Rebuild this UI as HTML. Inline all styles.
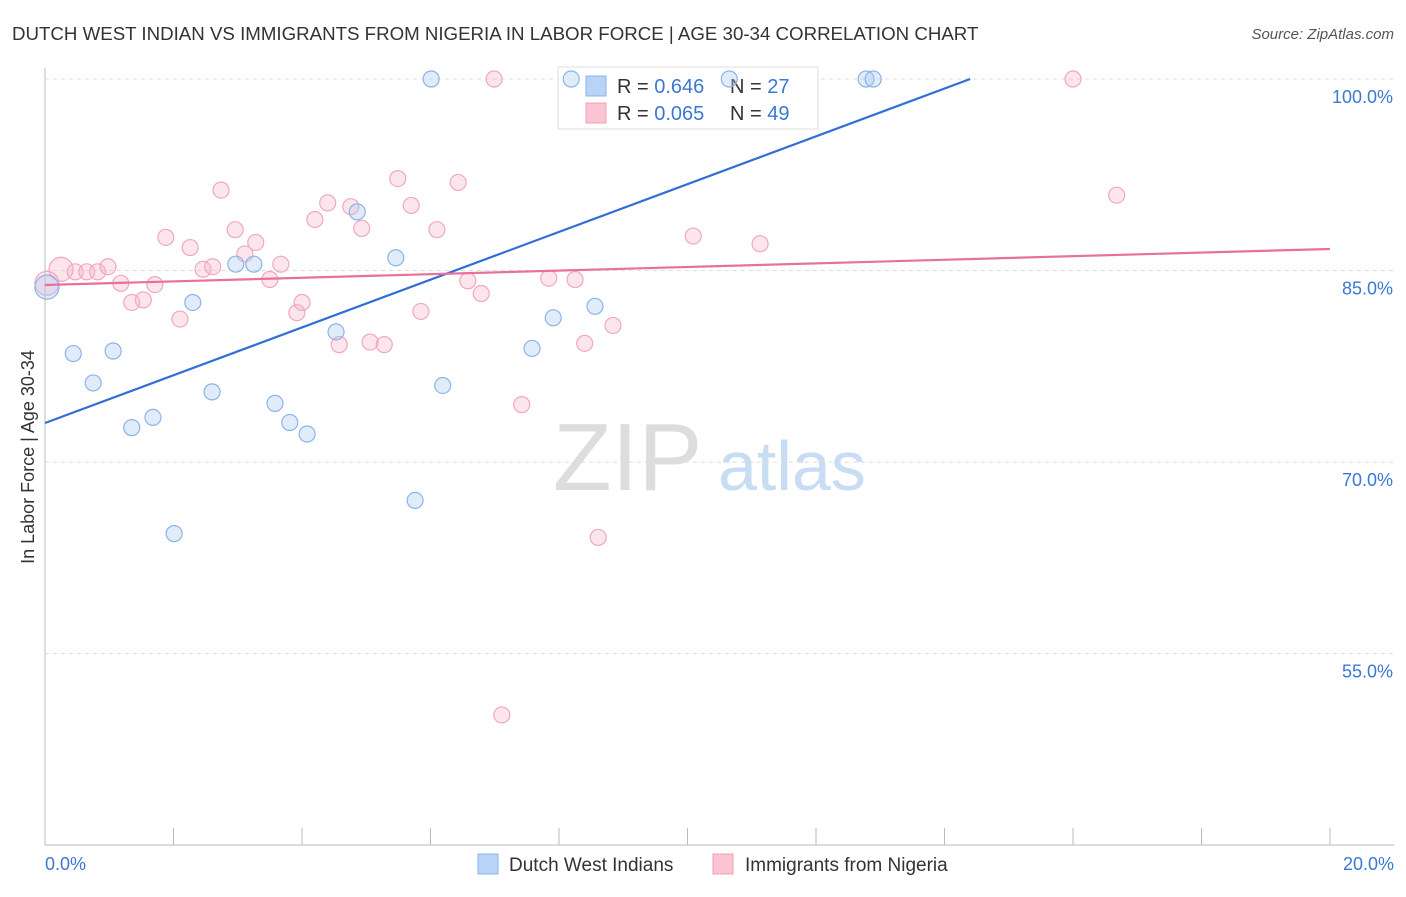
<!DOCTYPE html>
<html><head><meta charset="utf-8"><style>
body{margin:0;background:#fff;font-family:"Liberation Sans",sans-serif}
svg text{font-family:"Liberation Sans",sans-serif}
</style></head><body>
<svg id="c" width="1406" height="892">
<text x="12" y="40" font-size="18.7" fill="#333">DUTCH WEST INDIAN VS IMMIGRANTS FROM NIGERIA IN LABOR FORCE | AGE 30-34 CORRELATION CHART</text>
<text x="1394" y="39" font-size="15" fill="#555" font-style="italic" text-anchor="end">Source: ZipAtlas.com</text>
<g>
<text x="553" y="490" font-size="96" fill="#ddd" font-family="Liberation Serif">ZIP</text>
<text x="718" y="490" font-size="70" fill="#c8dcf3">atlas</text>
</g>
<g id="grid"></g><g id="axes"></g>
<g>
<rect x="558" y="67" width="260" height="62" fill="#fff" fill-opacity="0.8" stroke="#ddd"/>
<rect x="586" y="76" width="20" height="20" fill="#b8d3f5" stroke="#8ab4e8"/>
<rect x="586" y="103" width="20" height="20" fill="#fac4d3" stroke="#f0a0b8"/>
<text x="617" y="93" font-size="20" fill="#333">R = <tspan fill="#3a78d4">0.646</tspan></text>
<text x="730" y="93" font-size="20" fill="#333">N = <tspan fill="#3a78d4">27</tspan></text>
<text x="617" y="120" font-size="20" fill="#333">R = <tspan fill="#3a78d4">0.065</tspan></text>
<text x="730" y="120" font-size="20" fill="#333">N = <tspan fill="#3a78d4">49</tspan></text>
</g>
<g id="pts"></g><g id="lines"></g>
<text transform="translate(34,457) rotate(-90)" font-size="18" fill="#333" text-anchor="middle">In Labor Force | Age 30-34</text>
<g>
<rect x="478" y="854" width="20" height="20" fill="#b8d3f5" stroke="#8ab4e8"/>
<text x="509" y="871" font-size="19" fill="#333">Dutch West Indians</text>
<rect x="713" y="854" width="20" height="20" fill="#fac4d3" stroke="#f0a0b8"/>
<text x="745" y="871" font-size="19" fill="#333">Immigrants from Nigeria</text>
</g>
</svg>
<script>
const blueX=[0.03,0.44,0.75,1.06,1.35,1.68,2.01,2.30,2.60,2.97,3.25,3.58,3.81,4.08,4.53,4.86,5.46,5.76,6.01,6.19,7.58,7.91,8.19,8.56,10.65,12.78,12.89];
const blueY=[83.7,78.5,76.2,78.7,72.7,73.5,64.4,82.5,75.5,85.5,85.5,74.6,73.1,72.2,80.2,89.6,86.0,67.0,100,76.0,78.9,81.3,100,82.2,100,100,100];
const pinkX=[0.25,0.03,0.47,0.65,0.82,0.98,1.18,1.35,1.53,1.71,1.88,2.10,2.26,2.46,2.61,2.74,2.96,3.11,3.28,3.50,3.67,3.92,4.00,4.20,4.40,4.58,4.76,4.93,5.06,5.28,5.49,5.70,5.85,6.10,6.43,6.58,6.79,6.99,7.11,7.42,7.84,8.25,8.40,8.61,8.84,10.09,11.13,16.0,16.68];
const pinkY=[85.1,84.0,84.9,84.9,84.9,85.3,84.0,82.5,82.7,83.9,87.6,81.2,86.8,85.1,85.3,91.3,88.2,86.3,87.2,84.3,85.5,81.7,82.5,89.0,90.3,79.2,90.0,88.3,79.4,79.2,92.2,90.1,81.8,88.2,91.9,84.2,83.2,100,50.2,74.5,84.4,84.3,79.3,64.1,80.7,87.7,87.1,100,90.9];
const blueLine=[73.06,100,14.4];
const pinkLine=[83.87,86.69];
const yTicks=[100,85,70,55];
const yTickLabels=["100.0%","85.0%","70.0%","55.0%"];
const xTicks=[0,2,4,6,8,10,12,14,16,18,20];
const NS="http://www.w3.org/2000/svg";
const X=v=>45+v*64.25, Y=v=>79+(100-v)*12.77;
function mk(p,t,a){const e=document.createElementNS(NS,t);for(const k in a)e.setAttribute(k,a[k]);document.getElementById(p).appendChild(e);return e;}
yTicks.forEach((t,i)=>{
 const l=mk('grid','line',{x1:45,x2:1394,y1:Y(t),y2:Y(t),stroke:'#ddd','stroke-dasharray':'4,4'});
 
 
 const tx=mk('grid','text',{x:1393,y:Y(t)+24,'font-size':18,fill:'#3a78d4','text-anchor':'end'});
 tx.textContent=yTickLabels[i];
 
 
});
const ax=mk('axes','line',{x1:45,x2:45,y1:68,y2:845,stroke:'#bbb'});


const bx=mk('axes','line',{x1:45,x2:1394,y1:845,y2:845,stroke:'#bbb'});


xTicks.forEach(t=>{const l=mk('axes','line',{x1:X(t),x2:X(t),y1:828,y2:845,stroke:'#bbb'});
 
 });
const x0=mk('axes','text',{x:45,y:870,'font-size':18,fill:'#3a78d4'});x0.textContent=xTicks[0].toFixed(1)+'%';


const x1=mk('axes','text',{x:1394,y:870,'font-size':18,fill:'#3a78d4','text-anchor':'end'});x1.textContent=xTicks[xTicks.length-1].toFixed(1)+'%';


pinkX.forEach((v,i)=>{const c=mk('pts','circle',{cx:X(v),cy:Y(pinkY[i]),r:i<2?12:8,fill:'rgba(248,180,200,0.35)',stroke:'#f0a8bf','stroke-width':1.2});
 
 });
blueX.forEach((v,i)=>{const c=mk('pts','circle',{cx:X(v),cy:Y(blueY[i]),r:i<1?12:8,fill:'rgba(170,200,240,0.35)',stroke:'#8ab4e8','stroke-width':1.2});
 
 });
const bl=mk('lines','line',{x1:X(0),y1:Y(blueLine[0]),x2:X(blueLine[2]),y2:Y(blueLine[1]),stroke:'#2f6fd6','stroke-width':2.2});


const pl=mk('lines','line',{x1:X(0),y1:Y(pinkLine[0]),x2:X(20),y2:Y(pinkLine[1]),stroke:'#e8709a','stroke-width':2.2});


</script>
</body></html>
